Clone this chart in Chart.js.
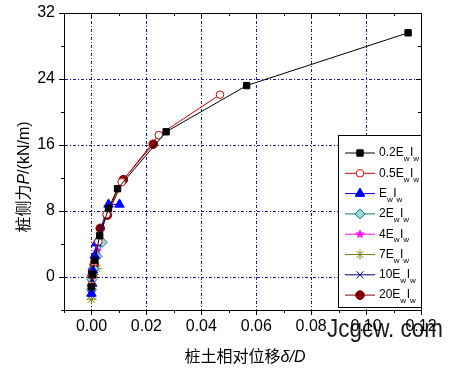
<!DOCTYPE html>
<html>
<head>
<meta charset="utf-8">
<script src="https://cdn.jsdelivr.net/npm/chart.js@4.4.0/dist/chart.umd.min.js"></script>
<style>
    body { margin: 0; background: #fff; }
</style>
</head>
<body>
<canvas id="pileChart" width="453" height="370"></canvas>
<script>
// data: x = delta/D, y = P (kN/m)
const p02x = [0, 0.0003, 0.0012, 0.003, 0.0062, 0.0095, 0.0272, 0.0565, 0.1153];
const p02y = [-1.2, 0.3, 2.0, 5.0, 8.3, 10.7, 17.6, 23.2, 29.6];
const p05x = [0, 0.0003, 0.001, 0.0025, 0.0055, 0.011, 0.0245, 0.0468];
const p05y = [-1.0, 0.2, 1.8, 4.3, 7.6, 11.5, 17.2, 22.1];
const p1x = [0, 0.0002, 0.0005, 0.0012, 0.0017, 0.0062, 0.0102];
const p1y = [-2.0, -0.8, 0.8, 2.6, 4.1, 8.8, 8.8];
const p2x = [0, 0.0002, 0.0008, 0.002, 0.0039];
const p2y = [-1.5, -0.3, 1.0, 2.5, 4.2];
const p4x = [0, 0.0001, 0.0005, 0.0012, 0.0022];
const p4y = [-1.8, -0.5, 0.8, 2.2, 3.2];
const p7x = [0, 0.0002, 0.0008, 0.002];
const p7y = [-2.7, -1.0, 0.3, 1.0];
const p10x = [0, 0.0001, 0.0004, 0.0008];
const p10y = [-2.2, -1.2, -0.5, 0.5];
const p20x = [0.0002, 0.0004, 0.001, 0.0032, 0.0058, 0.0116, 0.0225];
const p20y = [0.1, 0.8, 1.5, 5.9, 7.5, 11.8, 16.1];

// legend prefixes, the rest of each name is E_w I_w
const prefixes = ['0.2', '0.5', '', '2', '4', '7', '10', '20'];
const xTitle = ['桩土相对位移', 'δ/D'];
const yTitle = ['桩侧力', 'P', '/(kN/m)'];
const watermark = 'Jcgcw. com';

const latin = '"Liberation Sans", "Noto Sans CJK SC", sans-serif';

// filled 5 point star for the 4EwIw series
function starImg(color, r) {
    const c = document.createElement('canvas');
    c.width = c.height = r * 2 + 2;
    const g = c.getContext('2d');
    g.beginPath();
    for (let i = 0; i < 10; i++) {
        const rad = i % 2 ? r * 0.45 : r;
        const a = -Math.PI / 2 + i * Math.PI / 5;
        g.lineTo(r + 1 + rad * Math.cos(a), r + 1 + rad * Math.sin(a));
    }
    g.closePath();
    g.fillStyle = color;
    g.fill();
    return c;
}

function pts(xs, ys) {
    return xs.map((x, i) => ({ x: x, y: ys[i] }));
}

function makeSet(i, xs, ys, color, style, fill, radius) {
    return {
        label: prefixes[i] + 'EwIw',
        data: pts(xs, ys),
        showLine: true,
        borderColor: color,
        borderWidth: 1,
        backgroundColor: color,
        pointStyle: style,
        pointBackgroundColor: fill,
        pointBorderColor: color,
        pointBorderWidth: 1,
        pointRadius: radius,
        order: i
    };
}

const sets = [
    makeSet(0, p02x, p02y, '#000000', 'rect', '#000000', 4.5),
    makeSet(1, p05x, p05y, '#D00000', 'circle', '#ffffff', 3.8),
    makeSet(2, p1x, p1y, '#0000FF', 'triangle', '#0000FF', 5.5),
    makeSet(3, p2x, p2y, '#008080', 'rectRot', '#9fd8d8', 5),
    makeSet(4, p4x, p4y, '#FF00FF', starImg('#FF00FF', 5), '#FF00FF', 5),
    makeSet(5, p7x, p7y, '#808000', 'star', '#808000', 5),
    makeSet(6, p10x, p10y, '#000080', 'crossRot', '#000080', 5),
    makeSet(7, p20x, p20y, '#800000', 'circle', '#800000', 4.3)
];

const gridColor = '#1a1aa0';

function near(v, step) {
    return Math.abs(v / step - Math.round(v / step)) < 1e-6;
}

// frame, tick marks, axis titles, legend and watermark
const decor = {
    id: 'decor',
    afterDatasetsDraw(chart) {
        const ctx = chart.ctx;
        const a = chart.chartArea;
        const xs = chart.scales.x, ys = chart.scales.y;
        ctx.save();
        ctx.setLineDash([]);
        ctx.strokeStyle = '#000';
        ctx.lineWidth = 1;
        ctx.strokeRect(Math.round(a.left) + 0.5, Math.round(a.top) + 0.5,
            Math.round(a.right - a.left), Math.round(a.bottom - a.top));

        ctx.beginPath();
        xs.ticks.forEach(t => {
            const px = Math.round(xs.getPixelForValue(t.value)) + 0.5;
            const major = near(t.value, 0.02);
            ctx.moveTo(px, a.bottom); ctx.lineTo(px, a.bottom + (major ? 5 : 3));
            ctx.moveTo(px, a.top); ctx.lineTo(px, a.top + (major ? 5 : 3));
        });
        ys.ticks.forEach(t => {
            const py = Math.round(ys.getPixelForValue(t.value)) + 0.5;
            const major = near(t.value, 8);
            ctx.moveTo(a.left, py); ctx.lineTo(a.left - (major ? 5 : 3), py);
            ctx.moveTo(a.right, py); ctx.lineTo(a.right - (major ? 5 : 3), py);
        });
        ctx.stroke();

        // axis titles
        ctx.fillStyle = '#000';
        ctx.textBaseline = 'middle';
        const f = '16px ' + latin;
        const fi = 'italic 16px ' + latin;
        ctx.font = f;
        let w1 = ctx.measureText(xTitle[0]).width;
        ctx.font = fi;
        let w2 = ctx.measureText(xTitle[1]).width;
        let x0 = 245 - (w1 + w2) / 2;
        ctx.font = f; ctx.textAlign = 'left';
        ctx.fillText(xTitle[0], x0, 358);
        ctx.font = fi;
        ctx.fillText(xTitle[1], x0 + w1, 358);

        ctx.save();
        ctx.translate(25, 177);
        ctx.rotate(-Math.PI / 2);
        ctx.font = f; const a1 = ctx.measureText(yTitle[0]).width;
        ctx.font = fi; const a2 = ctx.measureText(yTitle[1]).width;
        ctx.font = f; const a3 = ctx.measureText(yTitle[2]).width;
        let sx = -(a1 + a2 + a3) / 2;
        ctx.font = f; ctx.fillText(yTitle[0], sx, 0);
        ctx.font = fi; ctx.fillText(yTitle[1], sx + a1, 0);
        ctx.font = f; ctx.fillText(yTitle[2], sx + a1 + a2, 0);
        ctx.restore();

        // legend box
        const lx = 338, ly = 135, lw = 83, lh = 172;
        ctx.fillStyle = '#fff';
        ctx.fillRect(lx, ly, lw, lh);
        ctx.strokeRect(lx + 0.5, ly + 0.5, lw, lh);
        chart.data.datasets.forEach((ds, i) => {
            const y = 153 + i * 20.3;
            ctx.strokeStyle = ds.borderColor;
            ctx.beginPath();
            ctx.moveTo(345, y); ctx.lineTo(375, y);
            ctx.stroke();
            ctx.fillStyle = ds.pointBackgroundColor;
            Chart.helpers.drawPoint(ctx, {
                pointStyle: ds.pointStyle, radius: ds.pointRadius,
                rotation: 0, borderWidth: 1
            }, 360, y);
            // text with subscripts
            ctx.fillStyle = '#000';
            ctx.textBaseline = 'middle';
            let tx = 379;
            const parts = [[prefixes[i] + 'E', false], ['w', true], ['I', false], ['w', true]];
            parts.forEach(p => {
                ctx.font = (p[1] ? '8px ' : '12px ') + latin;
                ctx.fillText(p[0], tx, p[1] ? y + 6 : y);
                tx += ctx.measureText(p[0]).width + (p[1] ? 0.5 : 0);
            });
        });

        // watermark, squeezed to the width it takes in the picture
        ctx.fillStyle = 'rgba(0,0,0,0.9)';
        ctx.font = '25px "Liberation Sans", sans-serif';
        ctx.textBaseline = 'alphabetic';
        const ww = ctx.measureText(watermark).width;
        ctx.save();
        ctx.translate(327, 337);
        ctx.scale(116 / ww, 1);
        ctx.fillText(watermark, 0, 0);
        ctx.restore();
        ctx.restore();
    }
};

document.addEventListener('DOMContentLoaded', () => {
    const ctx = document.getElementById('pileChart').getContext('2d');

    const pileChart = new Chart(ctx, {
        type: 'scatter',
        data: { datasets: sets },
        options: {
            responsive: false,
            animation: false,
            layout: { padding: { left: 12, top: 13, right: 32, bottom: 4 } },
            plugins: {
                legend: { display: false },
                tooltip: { enabled: false }
            },
            scales: {
                x: {
                    type: 'linear',
                    min: -0.01,
                    max: 0.12,
                    afterFit: s => { s.height = 56; s.paddingLeft = 0; s.paddingRight = 0; },
                    border: { display: true, color: '#000', dash: [3, 2, 1, 2] },
                    grid: {
                        drawTicks: false,
                        lineWidth: 1,
                        color: c => (c.tick && near(c.tick.value, 0.02) && c.tick.value > -0.005 && c.tick.value < 0.115) ? gridColor : 'rgba(0,0,0,0)'
                    },
                    ticks: {
                        stepSize: 0.01,
                        autoSkip: false,
                        maxRotation: 0,
                        padding: 7,
                        color: '#000',
                        font: { size: 16, family: latin },
                        callback: v => (v > -0.005 && near(v, 0.02)) ? v.toFixed(2) : ''
                    }
                },
                y: {
                    type: 'linear',
                    min: -4,
                    max: 32,
                    afterFit: s => { s.width = 52; s.paddingTop = 0; s.paddingBottom = 0; },
                    border: { display: true, color: '#000', dash: [3, 2, 1, 2] },
                    grid: {
                        drawTicks: false,
                        lineWidth: 1,
                        color: c => (c.tick && near(c.tick.value, 8) && c.tick.value > -1 && c.tick.value < 31) ? gridColor : 'rgba(0,0,0,0)'
                    },
                    ticks: {
                        stepSize: 4,
                        autoSkip: false,
                        padding: 9,
                        color: '#000',
                        font: { size: 16, family: latin },
                        callback: v => (v > -1 && near(v, 8)) ? String(v) : ''
                    }
                }
            }
        },
        plugins: [decor]
    });
});
</script>
</body>
</html>
